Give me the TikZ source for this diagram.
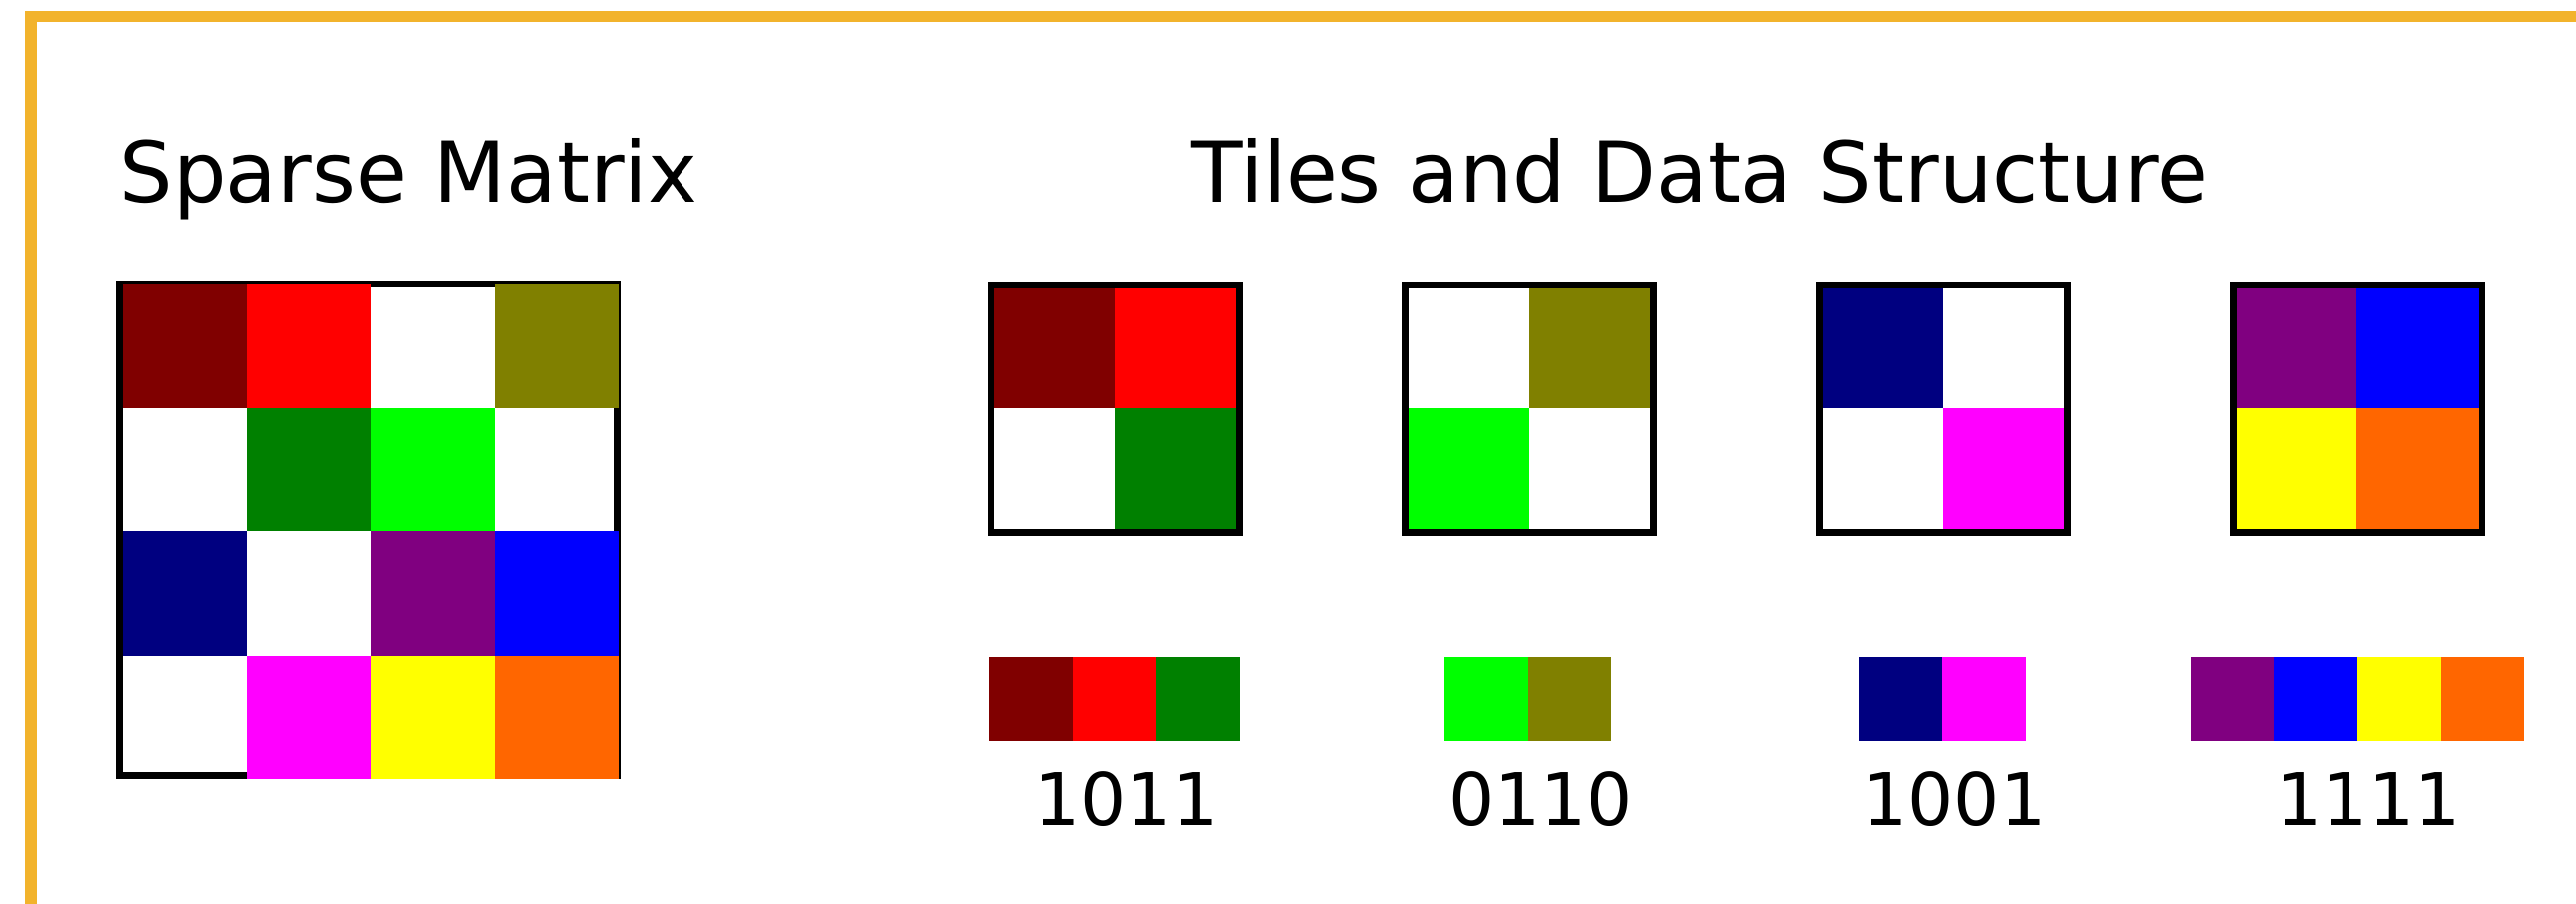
\documentclass[tikz,border=0pt]{standalone}
\usepackage{fontspec}
\setmainfont{DejaVu Sans}
\usepackage{xcolor}
\definecolor{cFrame}{RGB}{242,179,44}
\definecolor{cMar}{RGB}{128,0,0}
\definecolor{cRed}{RGB}{255,0,0}
\definecolor{cOli}{RGB}{128,128,0}
\definecolor{cGrn}{RGB}{0,128,0}
\definecolor{cLim}{RGB}{0,255,0}
\definecolor{cNav}{RGB}{0,0,128}
\definecolor{cPur}{RGB}{128,0,128}
\definecolor{cBlu}{RGB}{0,0,255}
\definecolor{cMag}{RGB}{255,0,255}
\definecolor{cYel}{RGB}{255,255,0}
\definecolor{cOrn}{RGB}{255,102,0}
\tikzset{
  ttl/.style={font=\fontsize{14.5}{17}\selectfont,anchor=base,inner sep=0pt},
  bits/.style={font=\fontsize{12.5}{15}\selectfont,anchor=base,inner sep=0pt},
  frm/.style={draw=black,line width=0.4mm},
  outer/.style={draw=cFrame,line width=0.7mm},
}
% one packed row of non-zero entries
\newcommand{\bitbar}[2]{%
  \foreach \c [count=\k from 0] in {#2}
    \fill[fill=\c] (#1+50.8*\k,399.5) rectangle ++(50.8,51.8);}

\begin{document}
\begin{tikzpicture}[x=0.1mm,y=-0.1mm]
\clip (0,0) rectangle (1568,550);
% frame
\draw[outer] (18.6,10) rectangle (1700,700);
% sparse matrix
\node[ttl] (mtitle) at (248.8,122.8) {Sparse Matrix};
\draw[frm] (73,173) rectangle (376,472);
\foreach \row [count=\r from 0] in {{cMar,cRed,none,cOli},{none,cGrn,cLim,none},
                                   {cNav,none,cPur,cBlu},{none,cMag,cYel,cOrn}}
  \foreach \c [count=\k from 0] in \row
    \fill[fill=\c] (75+75.4*\k,173+75.3*\r) rectangle ++(75.4,75.3);
% tiles
\node[ttl] (ttitle) at (1034.7,122.8) {Tiles and Data Structure};
\foreach \tl [count=\t from 0] in {{cMar,cRed,none,cGrn},{none,cOli,cLim,none},
                                  {cNav,none,none,cMag},{cPur,cBlu,cYel,cOrn}} {
  \foreach \c [count=\k from 0] in \tl
    \fill[fill=\c] ({603.5+252*\t+75*mod(\k,2)},{173.5+75*int(\k/2)}) rectangle ++(75,75);
  \draw[frm] (603.5+252*\t,173.5) rectangle ++(151,151);
}
% data structure
\bitbar{602.5}{cMar,cRed,cGrn}
\bitbar{879.5}{cLim,cOli}
\bitbar{1131.3}{cNav,cMag}
\bitbar{1333.2}{cPur,cBlu,cYel,cOrn}
\node[bits] (b1) at (685.7,501.9) {1011};
\node[bits] (b2) at (937.9,501.9) {0110};
\node[bits] (b3) at (1189.4,501.9) {1001};
\node[bits] (b4) at (1441.7,501.9) {1111};
\end{tikzpicture}
\end{document}
